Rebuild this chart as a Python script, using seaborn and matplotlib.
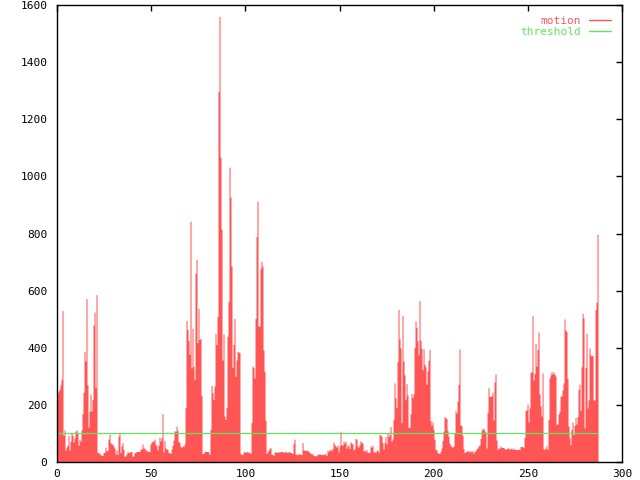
import numpy as np
import matplotlib
matplotlib.use("Agg")
import matplotlib.pyplot as plt
from matplotlib.lines import Line2D
import seaborn as sns

# motion per frame (frame interval dt)
dt = 0.531
motion = [
    240, 248, 255, 270, 290, 530, 94, 112, 42, 52, 59, 94, 42, 73, 101, 94, 70, 84, 108, 112,
    101, 59, 80, 73, 112, 169, 244, 387, 354, 572, 270, 122, 178, 237, 178, 218, 480, 525, 260, 586,
    33, 33, 28, 28, 23, 23, 33, 33, 52, 40, 40, 80, 98, 68, 63, 63, 56, 49, 28, 42,
    26, 91, 101, 33, 56, 68, 44,
    21, 21, 28, 37, 33, 33, 37, 37, 21, 21, 33, 33, 37, 37, 37, 37, 45, 45, 63, 49,
    49, 42, 42, 37, 37, 37, 63, 70, 73, 73, 80, 63, 56, 42, 59, 87, 73, 84, 169, 35,
    75, 49, 45, 45, 33, 33, 30, 45, 58, 76, 110, 107, 125, 111, 72, 68, 54, 50, 58, 54, 63,
    191, 496, 464, 426, 377, 843, 329, 468, 335, 289, 660, 710, 418, 538, 429, 433, 233,
    30, 30, 38, 37, 37, 37, 35, 27,
    114, 268, 243, 219, 266, 450, 411, 510, 1298, 1560, 1067, 815, 357, 448, 161, 149, 191,
    440, 562, 1032, 927, 686, 331, 412, 503, 300, 357, 387, 385, 383,
    30, 26, 26, 35, 37, 33, 37, 35, 35, 33, 30,
    138, 336, 331, 294, 503, 789, 913, 476, 476, 677, 703, 686, 392, 317, 146,
    30, 35, 41, 48, 50, 27, 27, 23, 33, 37, 33, 35, 35, 35, 37, 37, 35, 37, 33, 38,
    35, 33, 37, 35, 33, 33, 30, 66, 80, 28, 26, 26, 30, 26, 28, 26, 68, 42, 42, 40,
    40, 42, 37, 35, 30, 30, 28, 23, 23, 21, 23, 28, 26, 30, 26, 26, 28, 26, 26, 30,
    23, 42, 37, 42, 45, 40, 47, 70, 61, 56, 52, 59, 35, 56, 108, 61, 59, 73, 66, 73,
    49, 61, 56, 47, 70, 66, 63, 42, 47, 82, 80, 56, 52, 61, 74, 70, 66, 39, 42, 37,
    44, 33, 35, 33, 56, 52, 59, 35, 37, 33, 40, 42, 35, 97,
    94, 91, 68, 45, 68, 89, 63, 101, 89, 96, 124, 73, 80, 150, 277, 225, 190, 351, 534, 431,
    400, 138, 513, 354, 305, 218, 274, 234, 122, 120, 169, 239, 225, 239, 400, 494, 471, 424, 375, 565,
    427, 398, 323, 396, 342, 333, 272, 319, 356, 394, 145, 129, 141, 115, 80, 42, 45, 33, 30, 30,
    37, 49, 75, 108, 159, 155, 152, 110, 91, 66, 59, 54, 52, 56, 101, 180, 171, 213, 272, 396,
    129, 127, 94, 47, 33, 35, 40, 37, 40, 35, 40, 35, 40, 30, 37, 40, 47, 49, 56, 59,
    82, 110, 117, 117, 110, 105, 49, 173, 260, 230,
    229, 233, 245, 147, 280, 308, 77, 44, 51, 47, 56, 51, 51, 51, 47, 44, 47, 49, 49, 44,
    47, 49, 44, 49, 44, 44, 44, 44, 44, 44, 54, 54, 54, 51, 86, 180, 182, 203, 140, 189,
    312, 317, 513, 287, 310, 415, 336, 394, 455, 238, 196, 161, 312, 47, 44, 49, 58, 44, 149, 294,
    305, 317, 308, 315, 308, 301, 133, 133, 168, 177, 231, 231, 252, 277, 501, 462, 457, 292, 126, 84,
    61, 114, 140, 96, 128, 156, 133, 159, 254, 273, 180, 333, 520, 504, 119, 331, 450, 189, 217, 399,
    375, 371, 373, 217, 217, 534, 560, 797,
]
threshold = 100

x_ticks = [0, 50, 100, 150, 200, 250, 300]
y_ticks = [0, 200, 400, 600, 800, 1000, 1200, 1400, 1600]

red = "#ff5555"
green = "#5fe65f"

sns.set_style("white")
plt.rcParams["font.family"] = ["DejaVu Sans Mono", "DejaVu Sans"]

n = len(motion)
t = (np.arange(n) + 0.5) * dt

fig = plt.figure(figsize=(6.4, 4.8), dpi=100)
ax = fig.add_axes([57 / 640, 18 / 480, 565 / 640, 457 / 480])

sns.histplot(x=t, weights=motion, bins=n, binrange=(0, n * dt), element="step",
             fill=True, color=red, alpha=1, linewidth=0, ax=ax)
sns.lineplot(x=[0, n * dt], y=[threshold, threshold], color=green, linewidth=0.9, ax=ax)

ax.set_xlim(0, 300)
ax.set_ylim(0, 1600)
ax.set_xticks(x_ticks)
ax.set_yticks(y_ticks)
ax.set_xlabel("")
ax.set_ylabel("")
ax.tick_params(direction="in", length=4, width=1, top=True, right=True,
               labelsize=8, colors="black")
ax.tick_params(axis="x", pad=5)
ax.tick_params(axis="y", pad=7)
for s in ax.spines.values():
    s.set_color("black")
    s.set_linewidth(1)

handles = [Line2D([], [], color=red, lw=1), Line2D([], [], color=green, lw=1)]
leg = ax.legend(handles, ["motion", "threshold"], loc="upper right",
                bbox_to_anchor=(0.981, 0.976), frameon=False, markerfirst=False,
                borderaxespad=0, borderpad=0, handlelength=2.0, handletextpad=0.7,
                labelspacing=0.1, prop={"family": "DejaVu Sans Mono", "size": 8})
for txt, c in zip(leg.get_texts(), [red, green]):
    txt.set_color(c)

fig.savefig("out.png", dpi=100)
